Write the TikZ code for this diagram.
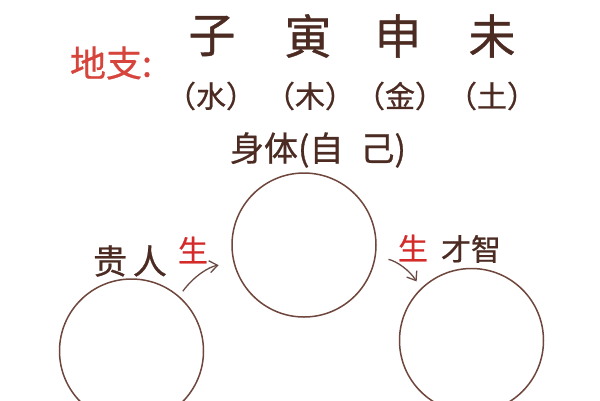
\documentclass[tikz,border=0pt]{standalone}
\usepackage{fontspec}
\setmainfont{Noto Sans CJK SC}[FakeBold=0.7]
\usetikzlibrary{arrows.meta}
\definecolor{inkbrown}{HTML}{4B2B22}
\definecolor{ringbrown}{HTML}{6E463C}
\definecolor{labelred}{HTML}{D6443C}
\definecolor{shengred}{HTML}{D42A2A}
\definecolor{arrowbrown}{HTML}{6A4A42}
\begin{document}
\begin{tikzpicture}[x=1pt,y=-1pt,
    branch/.style={inkbrown, inner sep=0, font=\fontsize{47}{47}\selectfont},
    element/.style={inkbrown, inner sep=0, font=\fontsize{30}{30}\selectfont},
    caption/.style={inkbrown, inner sep=0, font=\fontsize{34}{34}\selectfont},
    sheng/.style={shengred, inner sep=0, font=\fontsize{30}{30}\selectfont},
    ring/.style={draw=ringbrown, line width=1.5pt, circle, minimum size=144pt, inner sep=0},
    flow/.style={draw=arrowbrown, line width=1.3pt, -{Straight Barb[length=8pt,width=12pt]}, bend left=22}]
    \useasboundingbox[fill=white] (0,0) rectangle (600,400);
    % header
    \node[labelred, inner sep=0, font=\fontsize{36}{36}\selectfont] (dizhi) at (111,63) {地支:};
    \node[branch] (zi) at (212,36) {子};
    \node[branch] (yin) at (308,36) {寅};
    \node[branch] (shen) at (398,36) {申};
    \node[branch] (wei) at (492,36) {未};
    \node[element] (shui) at (211,96) {（水）};
    \node[element] (mu) at (310,96) {（木）};
    \node[element] (jin) at (400,96) {（金）};
    \node[element] (tu) at (492,96) {（土）};
    % circles
    \node[ring] (self) at (304,245) {};
    \node[ring] (noble) at (131.5,351) {};
    \node[ring] (talent) at (471.5,340.5) {};
    \node[caption] (selflabel) at (318,150) {身体(自\enspace 己)};
    \node[caption] (noblelabel) at (130,261) {贵\,人};
    \node[sheng] (sheng1) at (193,250) {生};
    \node[sheng] (sheng2) at (413,248) {生};
    \node[element] (talentlabel) at (471,249) {才智};
    % arrows
    \draw[flow, shorten <=6pt, shorten >=15pt] (noble.49) to (self.194);
    \draw[flow, shorten <=13pt, shorten >=8pt] (self.351) to (talent.134);
\end{tikzpicture}
\end{document}
